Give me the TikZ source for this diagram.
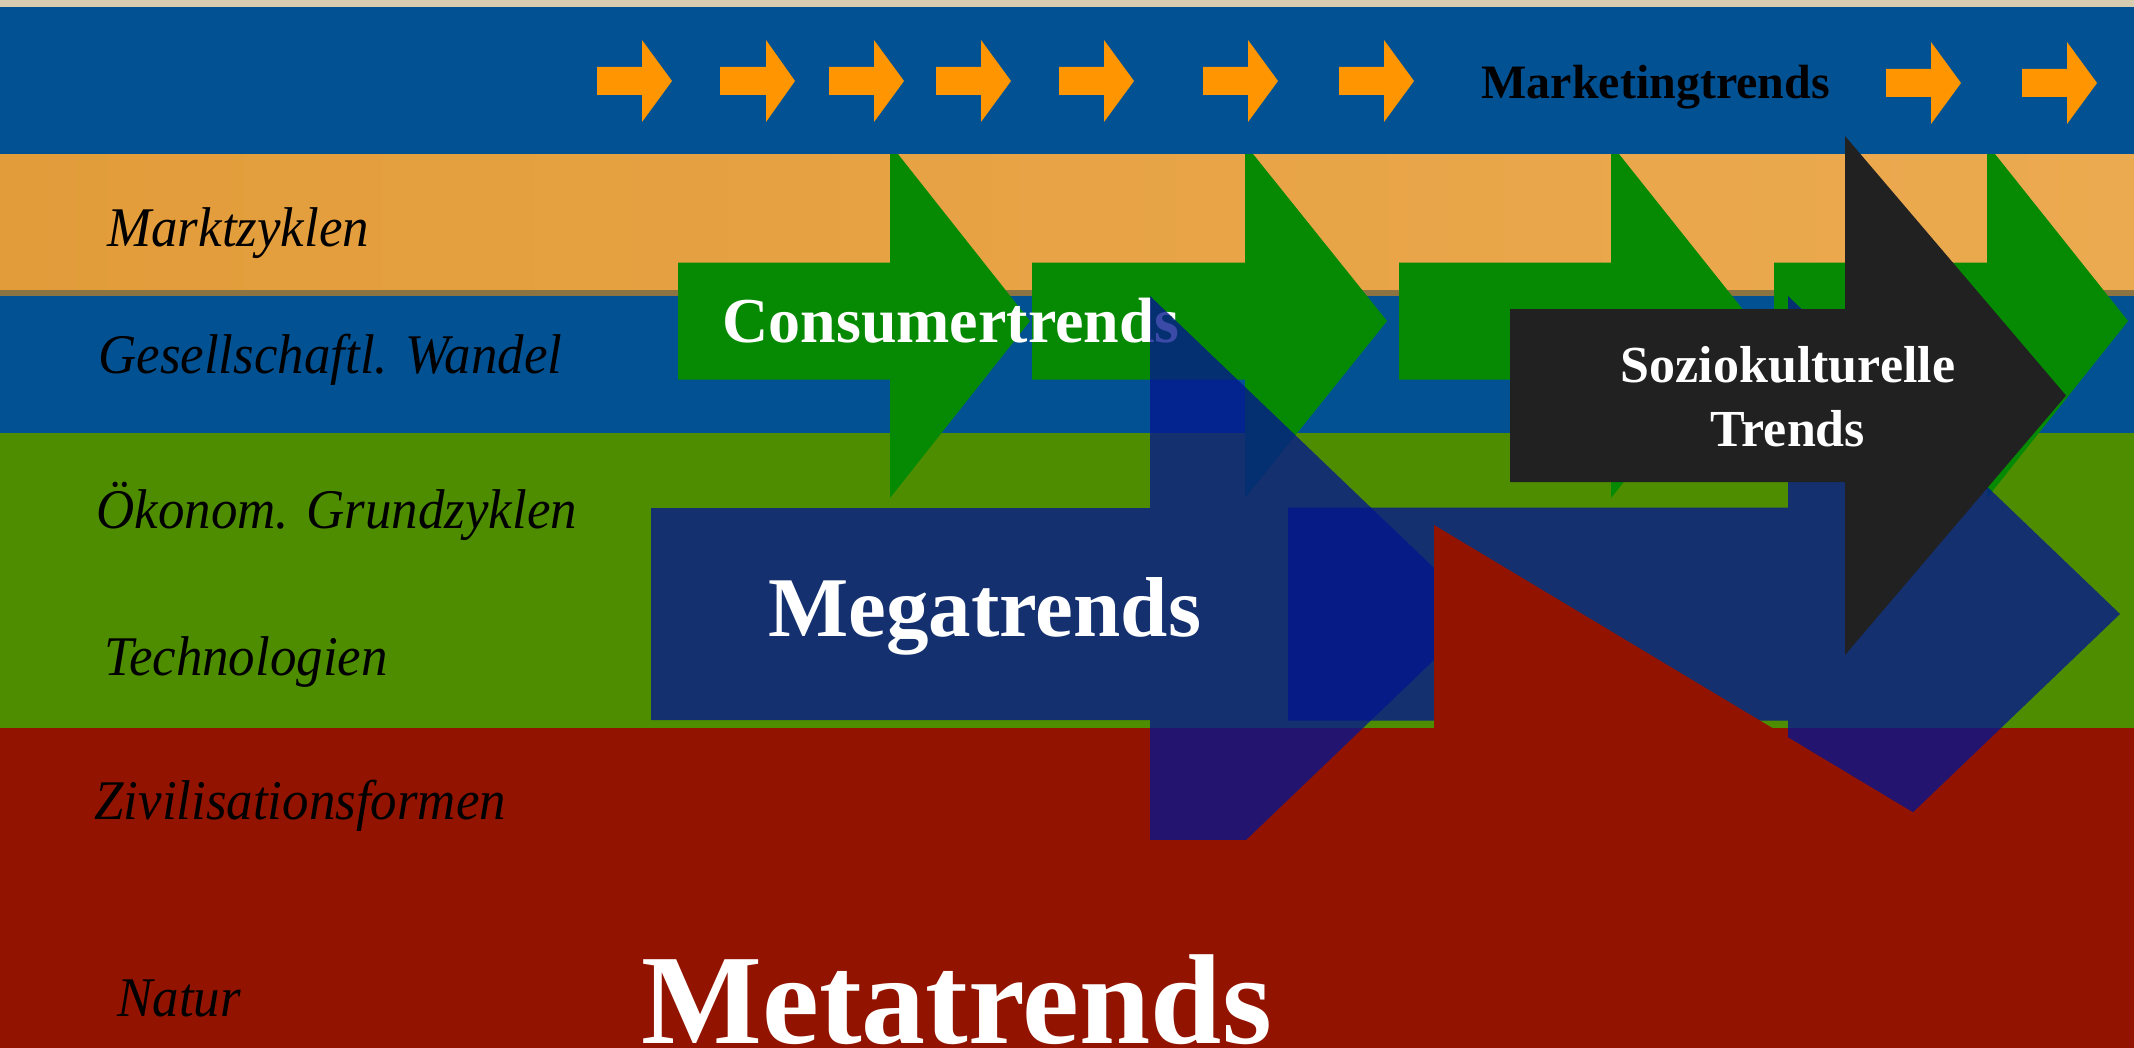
\documentclass[tikz,border=0pt]{standalone}
\usepackage{graphicx}
\usepackage{fontspec}
\setmainfont{Liberation Serif}
\definecolor{bandblue}{RGB}{2,82,147}
\definecolor{bandorangeL}{RGB}{226,156,58}
\definecolor{bandorangeR}{RGB}{236,170,80}
\definecolor{bandbrown}{RGB}{140,115,66}
\definecolor{bandgreen}{RGB}{78,141,0}
\definecolor{bandred}{RGB}{146,20,0}
\definecolor{beige}{RGB}{216,205,176}
\definecolor{arrgreen}{RGB}{6,138,3}
\definecolor{arrorange}{RGB}{255,149,0}
\definecolor{arrblack}{RGB}{33,33,33}
\definecolor{arrblue}{RGB}{4,22,143}
\newcommand{\flatarrow}[7]{\fill[#1] (#2,#5-#6) -- (#3,#5-#6) -- (#3,#5-#7) -- (#4,#5) -- (#3,#5+#7) -- (#3,#5+#6) -- (#2,#5+#6) -- cycle;}
\newcommand{\lbltext}[1]{\scalebox{0.945}[1]{#1}}
\begin{document}
\begin{tikzpicture}[x=0.5pt,y=-0.5pt,
  orangearrow/.style={fill=arrorange},
  greenarrow/.style={fill=arrgreen},
  bluearrow/.style={fill=arrblue,fill opacity=0.78},
  blackarrow/.style={fill=arrblack},
  redarrow/.style={fill=bandred},
  lbl/.style={inner sep=0,anchor=base west,font=\fontsize{28}{32}\selectfont\itshape,text=black},
  wtxt/.style={inner sep=0,anchor=base west,text=white,font=\bfseries}]
\useasboundingbox (0,0) rectangle (2134,1048);
% bands
\fill[beige] (0,0) rectangle (2134,8);
\shade[left color=bandorangeL,right color=bandorangeR] (0,154) rectangle (2134,291);
\fill[bandbrown] (0,290) rectangle (2134,296);
\fill[bandblue] (0,296) rectangle (2134,433);
\fill[bandgreen] (0,433) rectangle (2134,728);
\fill[bandred] (0,728) rectangle (2134,1048);
% consumer trend arrows
\flatarrow{greenarrow}{678}{890}{1030}{321}{58.5}{177}
\flatarrow{greenarrow}{1032}{1245}{1387}{321}{58.5}{177}
\flatarrow{greenarrow}{1399}{1611}{1752}{321}{58.5}{177}
\flatarrow{greenarrow}{1774}{1987}{2128}{321}{58.5}{177}
% top band
\fill[bandblue] (0,7) rectangle (2134,154);
% marketing arrows
\flatarrow{orangearrow}{597}{642}{672}{81}{14}{41}
\flatarrow{orangearrow}{720}{766}{795}{81}{14}{41}
\flatarrow{orangearrow}{829}{874}{904}{81}{14}{41}
\flatarrow{orangearrow}{936}{981}{1011}{81}{14}{41}
\flatarrow{orangearrow}{1059}{1104}{1134}{81}{14}{41}
\flatarrow{orangearrow}{1203}{1248}{1278}{81}{14}{41}
\flatarrow{orangearrow}{1339}{1384}{1414}{81}{14}{41}
\flatarrow{orangearrow}{1886}{1931}{1961}{83}{14}{41}
\flatarrow{orangearrow}{2022}{2067}{2097}{83}{14}{41}
\node[inner sep=0,anchor=base west,font=\fontsize{24}{28}\selectfont\bfseries] (marketing) at (1481,99) {Marketingtrends};
\node[wtxt,font=\fontsize{32}{38}\selectfont\bfseries] (consumer) at (722,342) {Consumertrends};
% megatrend arrows
\flatarrow{bluearrow}{651}{1150}{1482}{614}{106}{318}
\flatarrow{bluearrow}{1288}{1788}{2120}{614}{106.5}{318}
\node[wtxt,font=\fontsize{42.5}{50}\selectfont\bfseries] (mega) at (768,636) {Megatrends};
% metatrend arrow
\fill[redarrow] (600,840) -- (1434,840) -- (1434,525) -- (2134,945) -- (2134,1048) -- (600,1048) -- cycle;
\node[wtxt,font=\fontsize{64}{72}\selectfont\bfseries] (meta) at (641,1043) {Metatrends};
% sociocultural arrow
\flatarrow{blackarrow}{1510}{1845}{2066}{395.5}{86.5}{259.5}
\node[inner sep=0,anchor=base,text=white,font=\fontsize{26}{32}\selectfont\bfseries] (sozio1) at (1788,382) {Soziokulturelle};
\node[inner sep=0,anchor=base,text=white,font=\fontsize{26}{32}\selectfont\bfseries] (sozio2) at (1788,446) {Trends};
% level labels
\node[lbl] (l1) at (107,247) {\lbltext{Marktzyklen}};
\node[lbl] (l2) at (98,373) {\lbltext{Gesellschaftl. Wandel}};
\node[lbl] (l3) at (96,528) {\lbltext{Ökonom. Grundzyklen}};
\node[lbl] (l4) at (104,675) {\lbltext{Technologien}};
\node[lbl] (l5) at (94,819) {\lbltext{Zivilisationsformen}};
\node[lbl] (l6) at (117,1016) {\lbltext{Natur}};
\end{tikzpicture}
\end{document}
